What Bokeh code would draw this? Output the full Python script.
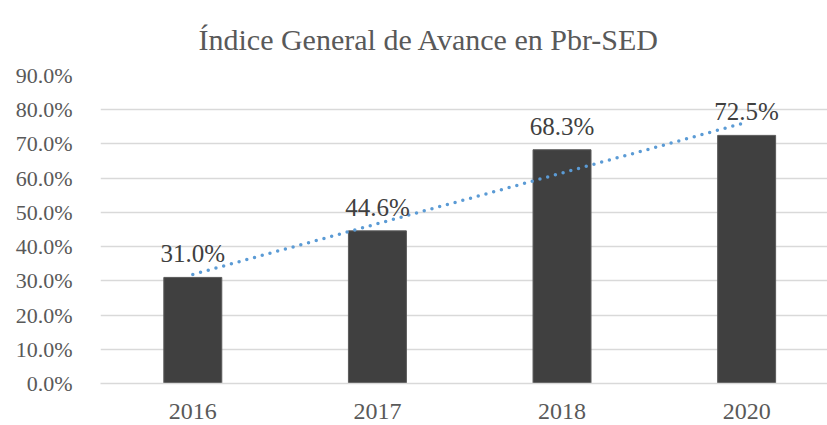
import numpy as np
from bokeh.plotting import figure
from bokeh.models import Range1d, FixedTicker, ColumnDataSource, LabelSet
from bokeh.embed import file_html
from bokeh.resources import INLINE

title_text = "Índice General de Avance en Pbr-SED"
years = ["2016", "2017", "2018", "2020"]
values = [31.0, 44.6, 68.3, 72.5]
y_ticks = [0, 10, 20, 30, 40, 50, 60, 70, 80, 90]
y_tick_labels = ["0.0%", "10.0%", "20.0%", "30.0%", "40.0%", "50.0%",
                 "60.0%", "70.0%", "80.0%", "90.0%"]

FONT = "Liberation Serif"
xs = list(range(len(years)))
labels = [f"{v:.1f}%" for v in values]
src = ColumnDataSource(dict(x=xs, top=values, label=labels))

p = figure(width=827, height=425, output_backend="svg", toolbar_location=None,
           x_range=Range1d(-0.5, 3.438), y_range=Range1d(0, 90),
           min_border_left=100, min_border_right=0, min_border_top=75, min_border_bottom=42,
           title=title_text)
p.outline_line_color = None
p.background_fill_color = "white"
p.border_fill_color = "white"

p.title.align = "left"
p.title.offset = 98
p.title.text_font = FONT
p.title.text_font_style = "normal"
p.title.text_font_size = "30px"
p.title.text_color = "#595959"
p.title.standoff = 40

p.vbar(x="x", top="top", width=0.314, bottom=0, source=src,
       fill_color="#404040", line_color="#5a5a5a", line_width=1)

# linear trend line fitted to the data (Excel-style trendline)
xi = np.arange(1, len(values) + 1)
slope, intercept = np.polyfit(xi, values, 1)
p.line(x=[xs[0], xs[-1]], y=[slope * xi[0] + intercept, slope * xi[-1] + intercept],
       line_color="#5B9BD5", line_width=3.5, line_dash="0 8", line_cap="round")

ls = LabelSet(x="x", y="top", text="label", source=src, text_align="center",
              text_baseline="alphabetic", y_offset=15, text_font=FONT,
              text_font_size="25px", text_color="#404040")
p.add_layout(ls)

p.yaxis.ticker = FixedTicker(ticks=y_ticks)
p.yaxis.major_label_overrides = {t: s for t, s in zip(y_ticks, y_tick_labels)}
p.yaxis.axis_line_color = None
p.yaxis.major_tick_line_color = None
p.yaxis.minor_tick_line_color = None
p.yaxis.major_label_standoff = 22
p.yaxis.major_label_text_font = FONT
p.yaxis.major_label_text_font_size = "22px"
p.yaxis.major_label_text_color = "#595959"

p.xaxis.ticker = FixedTicker(ticks=xs)
p.xaxis.major_label_overrides = {i: y for i, y in zip(xs, years)}
p.xaxis.axis_line_color = "#D9D9D9"
p.xaxis.axis_line_width = 1.5
p.xaxis.major_tick_line_color = None
p.xaxis.minor_tick_line_color = None
p.xaxis.major_label_standoff = 14
p.xaxis.major_label_text_font = FONT
p.xaxis.major_label_text_font_size = "24px"
p.xaxis.major_label_text_color = "#595959"

p.xgrid.grid_line_color = None
p.ygrid.ticker = FixedTicker(ticks=y_ticks)
p.ygrid.grid_line_color = "#D9D9D9"
p.ygrid.grid_line_width = 1.5

open("out.html", "w").write(file_html(p, INLINE))
